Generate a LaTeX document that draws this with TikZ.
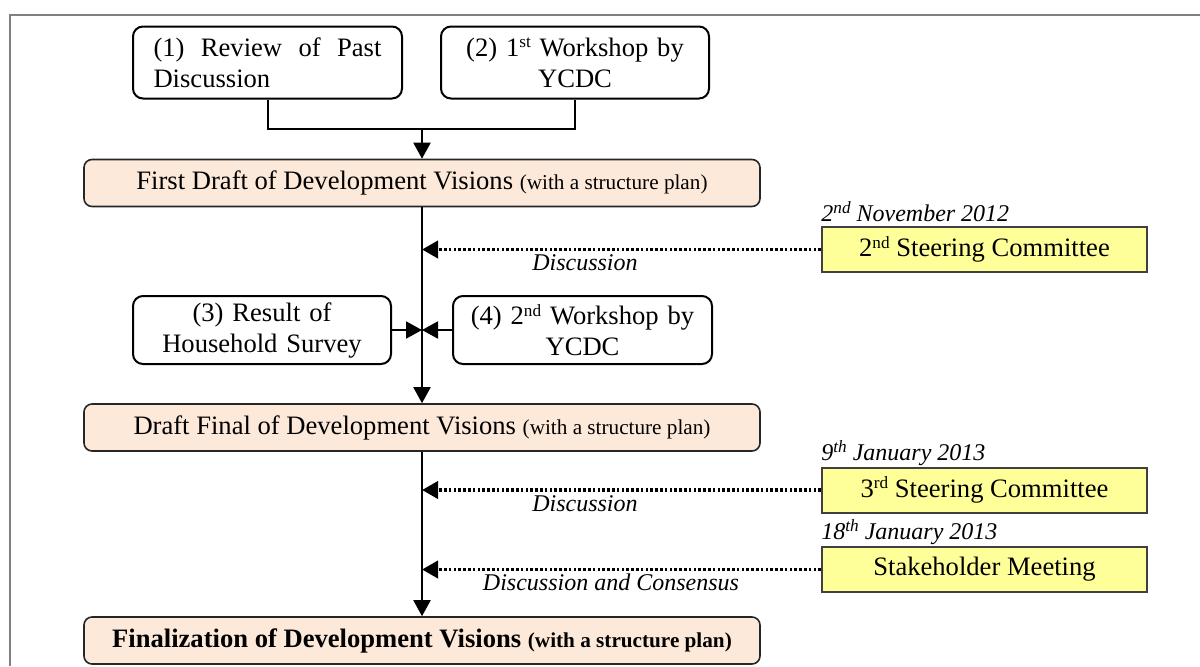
\documentclass[tikz,border=0pt]{standalone}
\usepackage{fontspec}
\setmainfont{Liberation Serif}
\usetikzlibrary{positioning,arrows.meta,calc}

\definecolor{peach}{RGB}{253,233,217}
\definecolor{paleyellow}{RGB}{255,255,153}
\definecolor{framegray}{RGB}{128,128,128}
\newcommand{\sups}[1]{\raisebox{0.7ex}{\fontsize{8.6}{9}\selectfont #1}}
\newcommand{\minor}{\fontsize{10.6}{12}\selectfont}

\begin{document}
\begin{tikzpicture}[x=0.5pt, y=-0.5pt,
    inputbox/.style={draw, line width=1pt, rounded corners=5pt, minimum height=36pt,
        inner ysep=0pt, font=\fontsize{13.3}{15.5}\selectfont},
    stagebox/.style={draw=black!85, line width=0.8pt, rounded corners=4pt, fill=peach,
        minimum width=338pt, minimum height=23.5pt, inner sep=0pt, font=\fontsize{13.3}{15.5}\selectfont},
    meetbox/.style={draw=black!75, line width=1pt, fill=paleyellow, minimum width=162.5pt,
        minimum height=22.5pt, inner sep=0pt, font=\fontsize{13.3}{15.5}\selectfont},
    datelabel/.style={anchor=base west, inner sep=0pt, font=\fontsize{12}{14}\selectfont\itshape},
    note/.style={anchor=base, inner sep=0pt, font=\fontsize{12}{14}\selectfont\itshape},
    flow/.style={line width=1pt, -{Triangle[width=8.5pt,length=8pt]}},
    feed/.style={line width=1.9pt, dash pattern=on 1.3pt off 1.1pt, -{Triangle[width=8.5pt,length=8pt]}}]

    \useasboundingbox (0,0) rectangle (1200,666);
    \path[draw, framegray, line width=1pt] (1200,15) -- (10,15) -- (10,666);

    % input boxes
    \node[inputbox, text width=114pt, inner xsep=10.25pt, align=justify] (review) at (267.5,62.5)
        {(1) Review of Past Discussion};
    \node[inputbox, text width=114pt, inner xsep=10pt, align=center] (work1) at (575,62.5)
        {(2) 1\sups{st} Workshop by\\YCDC};
    \node[inputbox, text width=109pt, inner xsep=10pt, minimum height=34pt, align=center] (survey) at (262,330)
        {(3) Result of\\Household Survey};
    \node[inputbox, text width=112pt, inner xsep=8.75pt, minimum height=34pt, align=center] (work2) at (582.5,330)
        {(4) 2\sups{nd} Workshop by\\YCDC};

    % stages
    \node[stagebox] (draft1) at (422,183) {First Draft of Development Visions {\minor (with a structure plan)}};
    \node[stagebox] (draft2) at (422,427.5) {Draft Final of Development Visions {\minor (with a structure plan)}};
    \node[stagebox] (final) at (422,640.5) {\textbf{Finalization of Development Visions {\minor (with a structure plan)}}};

    % meetings
    \node[meetbox] (steer2) at (984.5,249.5) {2\sups{nd} Steering Committee};
    \node[meetbox] (steer3) at (984.5,490) {3\sups{rd} Steering Committee};
    \node[meetbox] (stake) at (984.5,569.5) {Stakeholder Meeting};
    \node[datelabel] (date2) at ($(steer2.north west)+(0,-5)$) {2\sups{nd} November 2012};
    \node[datelabel] (date3) at ($(steer3.north west)+(0,-6)$) {9\sups{th} January 2013};
    \node[datelabel] (date4) at ($(stake.north west)+(0,-7)$) {18\sups{th} January 2013};

    % connectors
    \coordinate (join) at (422,128);
    \path[draw, line width=1pt] (review.south) -- ++(0,29.5) -| (work1.south);
    \path[draw, flow] (join) -- (draft1.north);
    \path[draw, flow] (draft1) -- (draft2);
    \path[draw, flow] (draft2) -- (final);
    \path[draw, flow] (survey.east) -- (survey.east -| draft1.south);
    \path[draw, flow] (work2.west) -- (work2.west -| draft1.south);

    \coordinate (hit2) at (steer2.west -| draft1.south);
    \coordinate (hit3) at (steer3.west -| draft1.south);
    \coordinate (hit4) at (stake.west -| draft1.south);
    \path[draw, feed] (steer2.west) -- (hit2);
    \path[draw, feed] (steer3.west) -- (hit3);
    \path[draw, feed] (stake.west) -- (hit4);
    \node[note] (talk2) at ($(hit2)+(163,21)$) {Discussion};
    \node[note] (talk3) at ($(hit3)+(163,21)$) {Discussion};
    \node[note] (talk4) at ($(hit4)+(189,21)$) {Discussion and Consensus};

\end{tikzpicture}
\end{document}
